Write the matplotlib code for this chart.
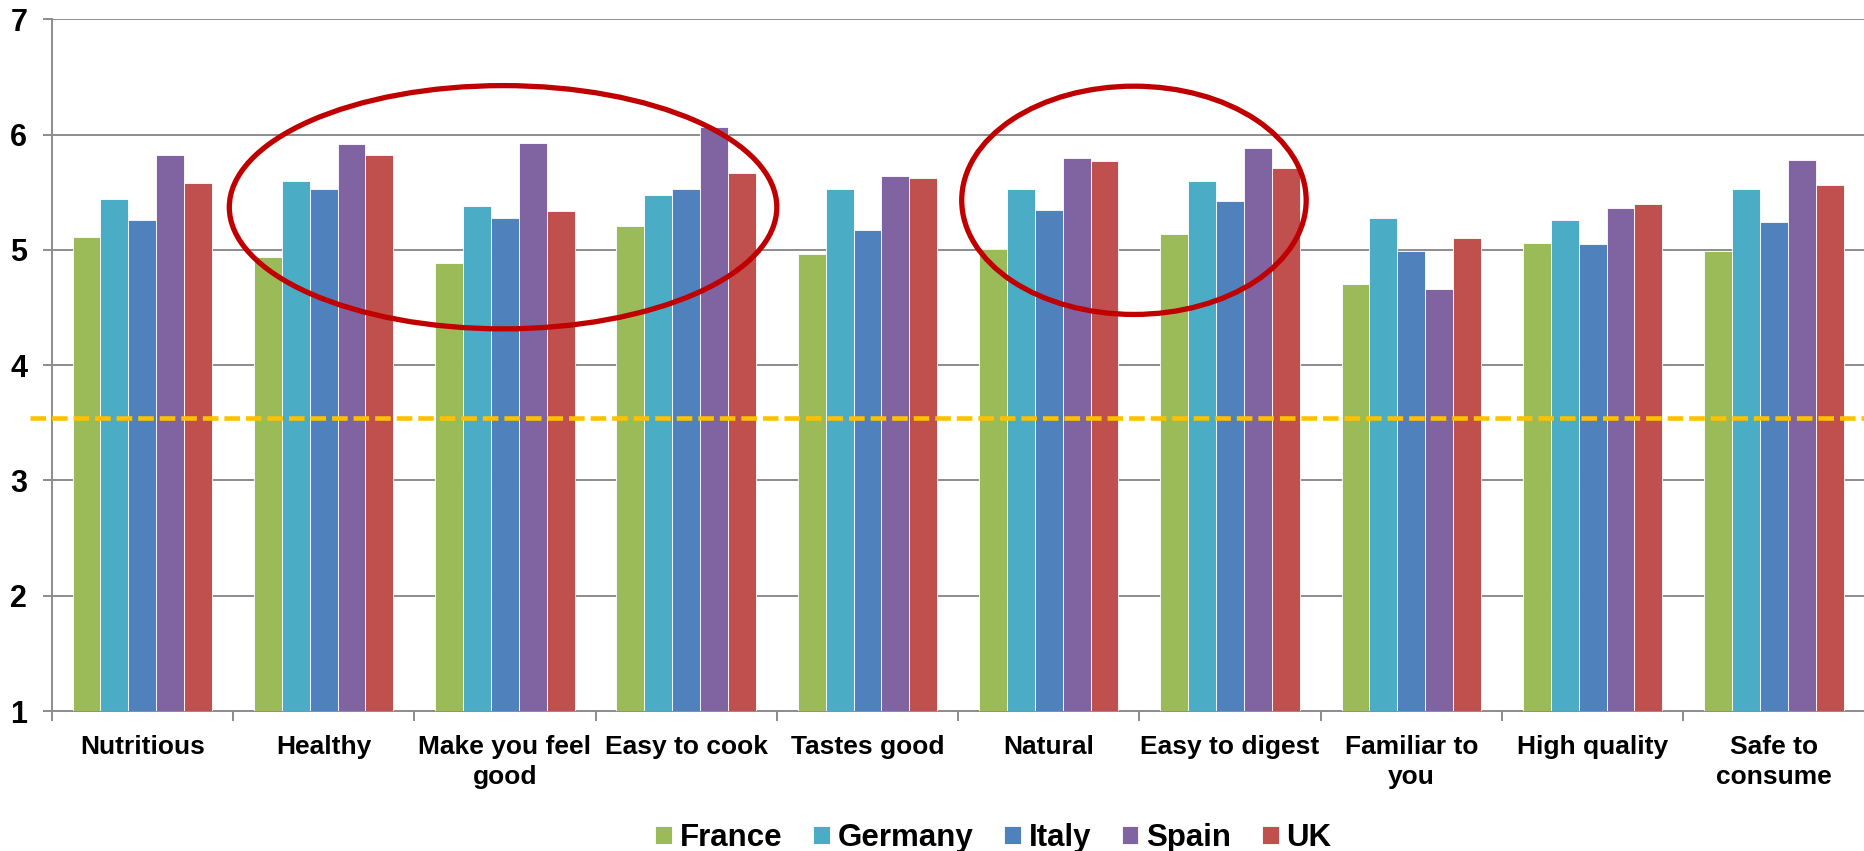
import numpy as np
import matplotlib
matplotlib.use("Agg")
import matplotlib.pyplot as plt
from matplotlib.patches import Ellipse

plt.rcParams['font.family'] = ['Liberation Sans', 'DejaVu Sans']
plt.rcParams['font.weight'] = 'bold'

# datos del grafico
categorias = ["Nutritious", "Healthy", "Make you feel\ngood", "Easy to cook", "Tastes good",
              "Natural", "Easy to digest", "Familiar to\nyou", "High quality", "Safe to\nconsume"]
paises = ["France", "Germany", "Italy", "Spain", "UK"]
france  = [5.11, 4.94, 4.89, 5.21, 4.96, 5.01, 5.14, 4.70, 5.06, 4.99]
germany = [5.44, 5.60, 5.38, 5.48, 5.53, 5.53, 5.60, 5.28, 5.26, 5.53]
italy   = [5.26, 5.53, 5.28, 5.53, 5.17, 5.35, 5.42, 4.99, 5.05, 5.24]
spain   = [5.82, 5.92, 5.93, 6.07, 5.64, 5.80, 5.88, 4.66, 5.36, 5.78]
uk      = [5.58, 5.82, 5.34, 5.67, 5.62, 5.77, 5.71, 5.10, 5.40, 5.56]
referencia = 3.54  # linea punteada naranja

colores = ["#9BBB59", "#4BACC6", "#4F81BD", "#8064A2", "#C0504D"]
gris = "#8C8C8C"

fig = plt.figure(figsize=(18.64, 8.51), dpi=100)
ax = fig.add_axes([0.0277, 0.1645, 0.9726, 0.8128])

x = np.arange(len(categorias))
ancho = 1 / 6.5
series = [france, germany, italy, spain, uk]
for k, (vals, nombre) in enumerate(zip(series, paises)):
    ax.bar(x + (k - 2) * ancho, np.array(vals) - 1, bottom=1, width=ancho,
           color=colores[k], edgecolor="white", linewidth=0.6, label=nombre, zorder=3)

ax.set_xlim(-0.5, len(categorias) - 0.5)
ax.set_ylim(1, 7)
ax.set_yticks(range(1, 8))
ax.yaxis.grid(True, color=gris, linewidth=1.4, zorder=0)
ax.set_axisbelow(True)

for s in ["top", "right"]:
    ax.spines[s].set_visible(False)
ax.spines["left"].set_color(gris)
ax.spines["bottom"].set_color(gris)
ax.spines["left"].set_linewidth(1.4)
ax.spines["bottom"].set_linewidth(1.4)

ax.set_xticks(x)
ax.set_xticklabels(categorias, fontsize=19, fontweight="bold", linespacing=1.3)
ax.set_xticks(np.arange(-0.5, len(categorias)), minor=True)
ax.tick_params(axis="x", which="major", length=0, pad=17.5)
ax.tick_params(axis="x", which="minor", length=7, width=1.4, color=gris)
ax.tick_params(axis="y", length=6.5, width=1.4, color=gris, labelsize=22, pad=11)
for t in ax.get_yticklabels():
    t.set_fontweight("bold")

# linea de referencia
ax.axhline(referencia, xmin=-0.012, xmax=1, color="#FFC000", linewidth=3.3,
           dashes=(3.4, 1.3), clip_on=False, zorder=4)

# elipses rojas
ax.add_patch(Ellipse((1.99, 5.37), 3.02, 2.11, fill=False, edgecolor="#C00000",
                     linewidth=3.8, zorder=5))
ax.add_patch(Ellipse((5.47, 5.43), 1.90, 1.98, fill=False, edgecolor="#C00000",
                     linewidth=3.8, zorder=5))

fig.legend(loc="center", bbox_to_anchor=(0.533, 0.0155), ncol=5, frameon=False,
           prop={"size": 22.5, "weight": "bold"}, handlelength=0.52, handleheight=0.5,
           handletextpad=0.25, columnspacing=1.0)

fig.savefig("out.png", dpi=100)
